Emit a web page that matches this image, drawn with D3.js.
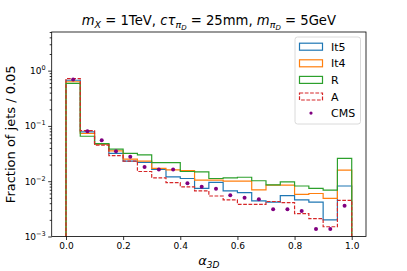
<!DOCTYPE html>
<html>
<head>
<meta charset="utf-8">
<script src="https://cdn.jsdelivr.net/npm/d3@7/dist/d3.min.js"></script>
<style>
body { margin: 0; background: #fff; }
text { font-family: "DejaVu Sans", sans-serif; }
</style>
</head>
<body>
<svg id="chart" width="407" height="271"></svg>
<script>
// bin lower edges (width 0.05), last entry closes the final bin
var binEdges = [0.0, 0.05, 0.1, 0.15, 0.2, 0.25, 0.3, 0.35, 0.4, 0.45,
                0.5, 0.55, 0.6, 0.65, 0.7, 0.75, 0.8, 0.85, 0.9, 0.95, 1.0];
var binCenters = [0.025, 0.075, 0.125, 0.175, 0.225, 0.275, 0.325, 0.375, 0.425, 0.475,
                  0.525, 0.575, 0.625, 0.675, 0.725, 0.775, 0.825, 0.875, 0.925, 0.975];

var it5 = [0.67, 0.078, 0.047, 0.032, 0.023, 0.022, 0.0163, 0.012, 0.0112, 0.0074,
           0.0095, 0.0067, 0.0062, 0.0044, 0.0042, 0.0055, 0.0046, 0.0042, 0.0020, 0.0082];
var it4 = [0.63, 0.073, 0.047, 0.0355, 0.025, 0.023, 0.017, 0.016, 0.0155, 0.0105,
           0.0105, 0.0100, 0.0100, 0.0070, 0.0085, 0.0085, 0.0058, 0.0060, 0.0049, 0.0159];
var rr  = [0.59, 0.065, 0.048, 0.038, 0.032, 0.030, 0.0217, 0.0217, 0.0150, 0.0148,
           0.0112, 0.0115, 0.0118, 0.0102, 0.0086, 0.0097, 0.0082, 0.0074, 0.0069, 0.0258];
var aa  = [0.72, 0.082, 0.045, 0.029, 0.023, 0.0150, 0.0115, 0.0094, 0.0079, 0.0067,
           0.0054, 0.0046, 0.0038, 0.0038, 0.0043, 0.0041, 0.0026, 0.0021, 0.0015, 0.0045];
var cms = [0.69, 0.080, 0.055, 0.035, 0.0276, 0.018, 0.0163, 0.0163, 0.0092, 0.0079,
           0.0073, 0.0056, 0.0050, 0.0047, 0.0031, 0.0031, 0.0029, 0.00136, 0.00136, 0.0036];

var xTicks = [0.0, 0.2, 0.4, 0.6, 0.8, 1.0];
var yTicks = [1e-3, 1e-2, 1e-1, 1e0];
var yTickExp = ["\u22123", "\u22122", "\u22121", "0"];

var series = [
    {name: "It5", values: it5, color: "#1f77b4", dash: null},
    {name: "It4", values: it4, color: "#ff7f0e", dash: null},
    {name: "R",   values: rr,  color: "#2ca02c", dash: null},
    {name: "A",   values: aa,  color: "#d62728", dash: "3.7,1.6"}
];

var svg = d3.select("#chart");
var pLeft = 51.7, pRight = 366, pTop = 32, pBottom = 236.5;

var x = d3.scaleLinear().domain([-0.05, 1.05]).range([pLeft, pRight]);
var y = d3.scaleLog().domain([1e-3, 5]).range([pBottom, pTop]);

// step outline: down to the floor at both ends like matplotlib histtype=step
function stepPath(vals) {
    var p = d3.path();
    p.moveTo(x(binEdges[0]), pBottom);
    vals.forEach(function(v, i) {
        p.lineTo(x(binEdges[i]), y(v));
        p.lineTo(x(binEdges[i + 1]), y(v));
    });
    p.lineTo(x(binEdges[binEdges.length - 1]), pBottom);
    return p.toString();
}

var plot = svg.append("g");
plot.append("clipPath").attr("id", "clip")
    .append("rect").attr("x", pLeft).attr("y", pTop)
    .attr("width", pRight - pLeft).attr("height", pBottom - pTop);

plot.selectAll("path.hist").data(series).enter().append("path")
    .attr("class", "hist")
    .attr("clip-path", "url(#clip)")
    .attr("d", function(d) { return stepPath(d.values); })
    .attr("fill", "none")
    .attr("stroke", function(d) { return d.color; })
    .attr("stroke-width", 1.2)
    .attr("stroke-dasharray", function(d) { return d.dash; });

plot.selectAll("circle.cms").data(cms).enter().append("circle")
    .attr("class", "cms")
    .attr("cx", function(d, i) { return x(binCenters[i]); })
    .attr("cy", function(d) { return y(d); })
    .attr("r", 2)
    .attr("fill", "purple");

// axes
var xAxis = svg.append("g").attr("transform", "translate(0," + pBottom + ")")
    .call(d3.axisBottom(x).tickValues(xTicks).tickFormat(d3.format(".1f"))
        .tickSize(3.5).tickPadding(3).tickSizeOuter(0));
xAxis.select(".domain").remove();
xAxis.selectAll("text").attr("font-size", 9).attr("fill", "#000")
    .attr("font-family", "DejaVu Sans");

var minor = [];
[1e-3, 1e-2, 1e-1, 1e0].forEach(function(dec) {
    [2, 3, 4, 5, 6, 7, 8, 9].forEach(function(m) {
        if (dec * m <= 5) minor.push(dec * m);
    });
});
var yMinor = svg.append("g").attr("transform", "translate(" + pLeft + ",0)")
    .call(d3.axisLeft(y).tickValues(minor).tickFormat("").tickSize(2).tickSizeOuter(0));
yMinor.select(".domain").remove();

var yAxis = svg.append("g").attr("transform", "translate(" + pLeft + ",0)")
    .call(d3.axisLeft(y).tickValues(yTicks).tickFormat("").tickSize(3.5).tickSizeOuter(0));
yAxis.select(".domain").remove();
svg.selectAll(".tick line").attr("stroke", "#000").attr("stroke-width", 0.8);

var yLab = svg.append("g").selectAll("text").data(yTicks).enter().append("text")
    .attr("x", pLeft - 6)
    .attr("y", function(d) { return y(d) + 3.5; })
    .attr("text-anchor", "end")
    .attr("font-size", 9);
yLab.append("tspan").text("10");
yLab.append("tspan").attr("dy", -4).attr("font-size", 6.5)
    .text(function(d, i) { return yTickExp[i]; });

// frame
svg.append("rect").attr("x", pLeft).attr("y", pTop)
    .attr("width", pRight - pLeft).attr("height", pBottom - pTop)
    .attr("fill", "none").attr("stroke", "#000").attr("stroke-width", 0.8);

// title
var title = svg.append("text").attr("x", (pLeft + pRight) / 2).attr("y", 25)
    .attr("text-anchor", "middle").attr("font-size", 13.2);
function part(t, opts) {
    var s = title.append("tspan").text(t);
    if (opts && opts.it) s.attr("font-style", "italic");
    if (opts && opts.dy) s.attr("dy", opts.dy);
    if (opts && opts.fs) s.attr("font-size", opts.fs);
    return s;
}
part("m", {it: true});
part("X", {it: true, dy: 3, fs: 9.5});
part(" = 1TeV, ", {dy: -3});
part("c\u03c4", {it: true});
part("\u03c0", {it: true, dy: 3, fs: 9.5});
part("D", {it: true, dy: 1.5, fs: 7});
part(" = 25mm, ", {dy: -4.5});
part("m", {it: true});
part("\u03c0", {it: true, dy: 3, fs: 9.5});
part("D", {it: true, dy: 1.5, fs: 7});
part(" = 5GeV", {dy: -4.5});

// axis labels
var xl = svg.append("text").attr("x", (pLeft + pRight) / 2).attr("y", 265)
    .attr("text-anchor", "middle").attr("font-size", 13);
xl.append("tspan").attr("font-style", "italic").text("\u03b1");
xl.append("tspan").attr("dy", 3).attr("font-size", 9).attr("font-style", "italic").text("3D");

svg.append("text")
    .attr("transform", "translate(15," + ((pTop + pBottom) / 2) + ") rotate(-90)")
    .attr("text-anchor", "middle").attr("font-size", 13)
    .text("Fraction of jets / 0.05");

// legend
var lg = svg.append("g");
lg.append("rect").attr("x", 295).attr("y", 37).attr("width", 65.5).attr("height", 87)
    .attr("rx", 2.5).attr("fill", "#fff").attr("fill-opacity", 0.8)
    .attr("stroke", "#d0d0d0").attr("stroke-width", 0.8);
var items = lg.selectAll("g.item").data(series).enter().append("g")
    .attr("transform", function(d, i) { return "translate(0," + (46.7 + i * 16.6) + ")"; });
items.append("rect").attr("x", 299.5).attr("y", -3.5).attr("width", 23).attr("height", 7)
    .attr("fill", "none")
    .attr("stroke", function(d) { return d.color; })
    .attr("stroke-width", 1.2)
    .attr("stroke-dasharray", function(d) { return d.dash; });
items.append("text").attr("x", 331).attr("y", 4).attr("font-size", 11)
    .text(function(d) { return d.name; });
lg.append("circle").attr("cx", 311).attr("cy", 46.7 + 4 * 16.6).attr("r", 1.6).attr("fill", "purple");
lg.append("text").attr("x", 331).attr("y", 46.7 + 4 * 16.6 + 4).attr("font-size", 11).text("CMS");
</script>
</body>
</html>
